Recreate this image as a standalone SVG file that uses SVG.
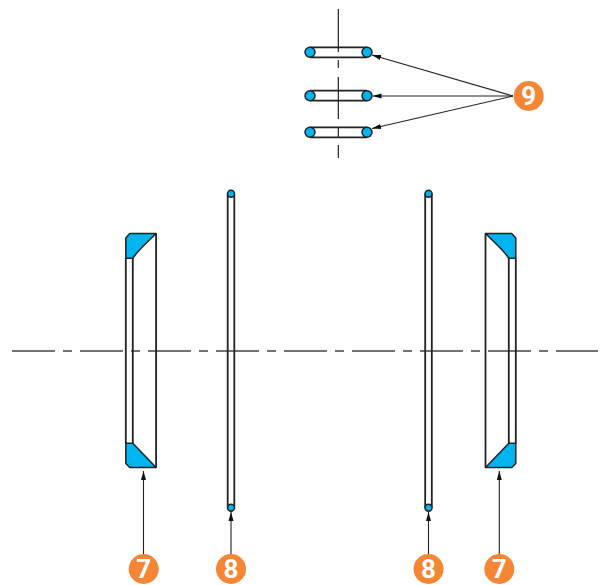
<svg xmlns="http://www.w3.org/2000/svg" width="605" height="585" viewBox="0 0 605 585">
<style>
.o{fill:none;stroke:#222;stroke-width:1.8;stroke-linejoin:round}
.b{fill:#00b5ef;stroke:#222;stroke-width:1.5;stroke-linejoin:round}
.c{fill:none;stroke:#444;stroke-width:1.5}
.v{fill:none;stroke:#222;stroke-width:1.2}
.a{fill:none;stroke:#222;stroke-width:1.1;marker-end:url(#h)}
.n{fill:#f58634}
.t{fill:#fff;font:bold 26px "Roboto","Liberation Sans",Arial,sans-serif;text-anchor:middle}
</style>
<defs>
<marker id="h" markerUnits="userSpaceOnUse" markerWidth="10" markerHeight="6" refX="9" refY="3" orient="auto"><path d="M0 0.5L9 3L0 5.500Z" fill="#111"/></marker>
<g id="ring"><path class="o" d="M310 -5H367M310 5H367"/><circle class="b" cx="310" cy="0" r="5"/><circle class="b" cx="367" cy="0" r="5"/></g>
<g id="thin"><path class="o" d="M-3.300 -157V157M3.300 -157V157"/><circle class="b" cy="-157" r="3.500"/><circle class="b" cy="157" r="3.500"/></g>
<g id="seal">
<path class="o" d="M0 258.300V443.300M7 258.300V443.300M30.300 233.500V467.500"/>
<path class="b" d="M4 233.500H30.300C21 243 14 248 7 258.300H0V238Z"/>
<path class="b" d="M0 443.300H7L30.300 467.500H4L0 463.500Z"/>
</g>
</defs>
<g id="centerlines">
<path class="c" stroke-dasharray="43 8 9 8" d="M12 351H598"/>
<path class="v" d="M338.300 9V52M338.300 60V68M338.300 77V119M338.300 127V137M338.300 145V158"/>
</g>
<g id="rings-9">
<use href="#ring" y="52.300"/><use href="#ring" y="95.700"/><use href="#ring" y="132.300"/>
</g>
<g id="ring-8-left"><use href="#thin" x="231" y="350.700"/></g>
<g id="ring-8-right"><use href="#thin" x="428.500" y="350.700"/></g>
<g id="seal-7-left"><use href="#seal" x="125.800"/></g>
<g id="seal-7-right"><use href="#seal" transform="matrix(-1 0 0 1 515.800 0)"/></g>
<g id="connectors">
<path class="a" d="M513 96L372 55"/>
<path class="a" d="M513 96H372.500"/>
<path class="a" d="M513 96L372 128.500"/>
<path class="a" d="M143.500 555V471"/>
<path class="a" d="M231 555V512"/>
<path class="a" d="M428.500 555V512"/>
<path class="a" d="M499.300 555V471"/>
</g>
<g id="badge-9"><circle class="n" cx="528.700" cy="96" r="15"/><text class="t" x="528.700" y="105">9</text></g>
<g id="badge-7-left"><circle class="n" cx="143.700" cy="569" r="15"/><text class="t" x="143.700" y="578">7</text></g>
<g id="badge-8-left"><circle class="n" cx="231" cy="569" r="15"/><text class="t" x="231" y="578">8</text></g>
<g id="badge-8-right"><circle class="n" cx="428.500" cy="569" r="15"/><text class="t" x="428.500" y="578">8</text></g>
<g id="badge-7-right"><circle class="n" cx="499.300" cy="569" r="15"/><text class="t" x="499.300" y="578">7</text></g>
</svg>
